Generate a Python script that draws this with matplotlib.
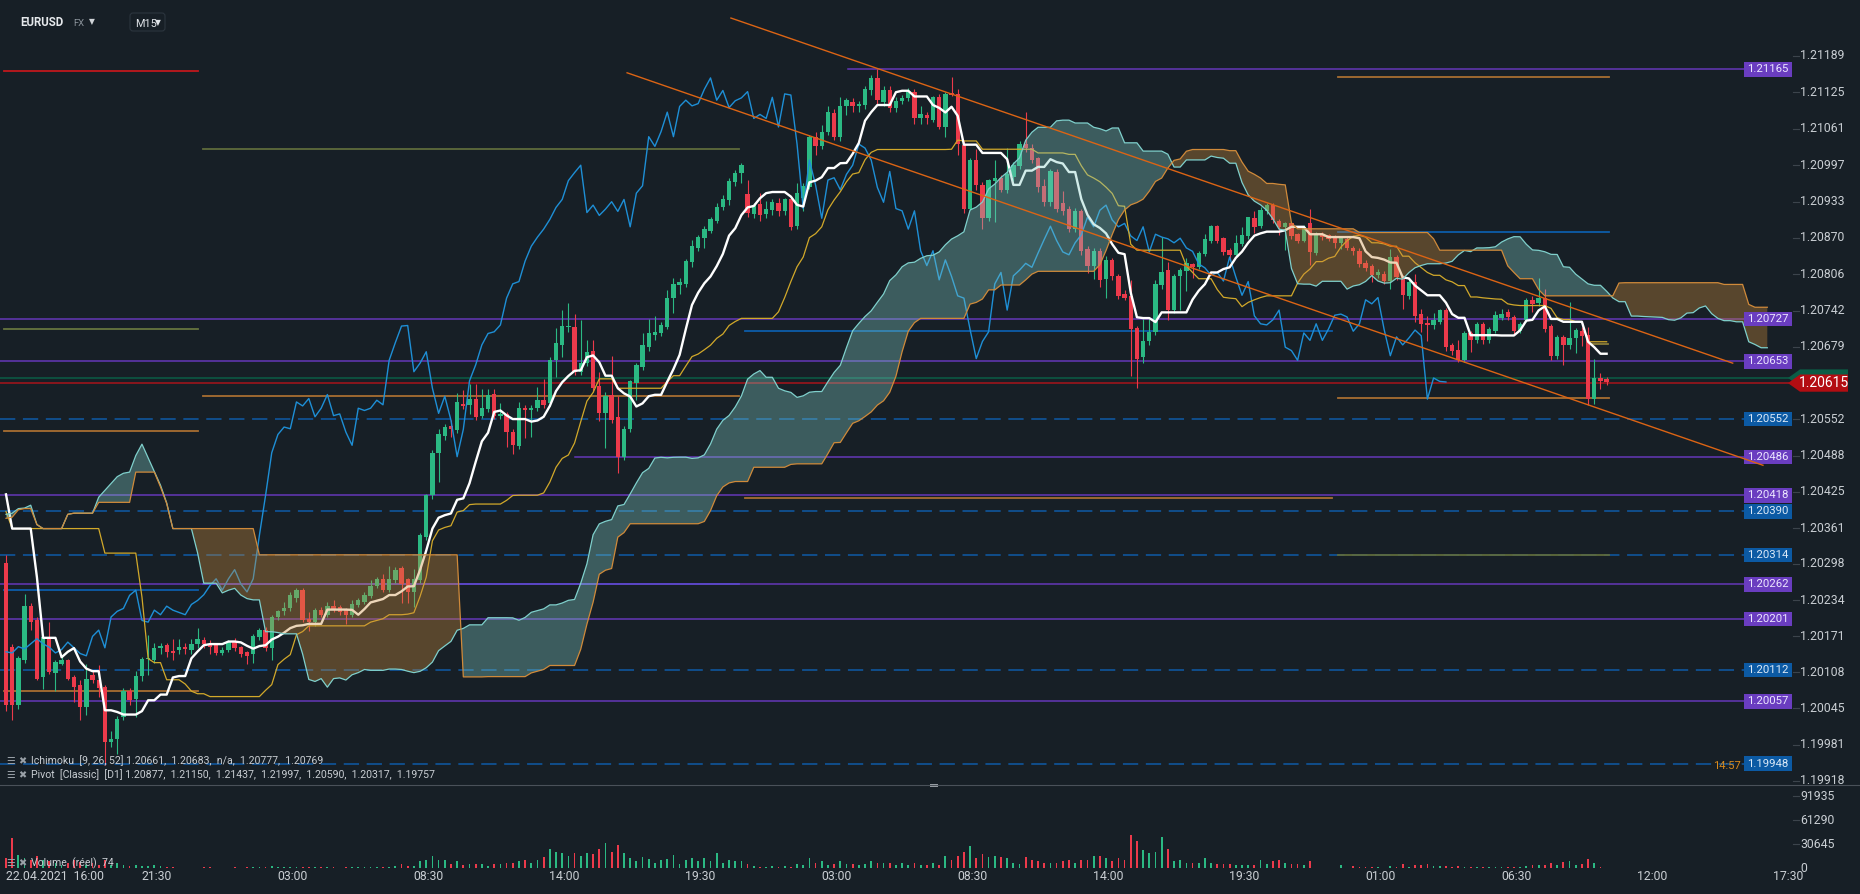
import numpy as np
import pandas as pd
import matplotlib
matplotlib.use("Agg")
import matplotlib.pyplot as plt
import matplotlib.transforms as mtransforms
from matplotlib.patches import Rectangle, Polygon, FancyBboxPatch
from matplotlib.lines import Line2D

plt.rcParams['font.family'] = ['Roboto', 'DejaVu Sans']
plt.rcParams['lines.scale_dashes'] = False

W, H = 1860, 894
BG = "#171f26"

# EURUSD M15 candles, bar 0 = first bar on screen
opens = [
    1.20300, 1.20152, 1.20050, 1.20130, 1.20225, 1.20200, 1.20099, 1.20170, 1.20106, 1.20123,
    1.20129, 1.20100, 1.20085, 1.20048, 1.20103, 1.20095, 1.20082, 1.19986, 1.19992, 1.20030,
    1.20076, 1.20062, 1.20101, 1.20132, 1.20130, 1.20151, 1.20156, 1.20145, 1.20147, 1.20153,
    1.20148, 1.20157, 1.20164, 1.20158, 1.20158, 1.20142, 1.20147, 1.20162, 1.20152, 1.20143,
    1.20141, 1.20170, 1.20182, 1.20151, 1.20205, 1.20215, 1.20220, 1.20238, 1.20252, 1.20202,
    1.20196, 1.20217, 1.20209, 1.20224, 1.20222, 1.20217, 1.20209, 1.20226, 1.20232, 1.20242,
    1.20260, 1.20272, 1.20252, 1.20269, 1.20291, 1.20271, 1.20249, 1.20269, 1.20345, 1.20418,
    1.20493, 1.20522, 1.20540, 1.20532, 1.20579, 1.20576, 1.20588, 1.20557, 1.20570, 1.20596,
    1.20557, 1.20561, 1.20530, 1.20505, 1.20571, 1.20567, 1.20571, 1.20585, 1.20581, 1.20655,
    1.20682, 1.20713, 1.20714, 1.20635, 1.20650, 1.20672, 1.20610, 1.20562, 1.20594, 1.20556,
    1.20486, 1.20534, 1.20616, 1.20643, 1.20678, 1.20700, 1.20703, 1.20714, 1.20764, 1.20787,
    1.20789, 1.20828, 1.20852, 1.20869, 1.20882, 1.20900, 1.20923, 1.20936, 1.20968, 1.20983,
    1.20947, 1.20912, 1.20929, 1.20912, 1.20918, 1.20931, 1.20916, 1.20937, 1.20891, 1.20940,
    1.20959, 1.21047, 1.21030, 1.21056, 1.21088, 1.21047, 1.21100, 1.21108, 1.21101, 1.21103,
    1.21128, 1.21149, 1.21108, 1.21129, 1.21098, 1.21110, 1.21114, 1.21126, 1.21079, 1.21085,
    1.21076, 1.21117, 1.21064, 1.21123, 1.21121, 1.21033, 1.20921, 1.21006, 1.20963, 1.20904,
    1.20969, 1.20975, 1.20953, 1.20977, 1.20995, 1.21034, 1.21028, 1.21009, 1.20960, 1.20932,
    1.20985, 1.20930, 1.20920, 1.20885, 1.20917, 1.20850, 1.20821, 1.20847, 1.20797, 1.20831,
    1.20802, 1.20772, 1.20767, 1.20711, 1.20661, 1.20688, 1.20705, 1.20787, 1.20813, 1.20743,
    1.20803, 1.20811, 1.20824, 1.20819, 1.20842, 1.20865, 1.20890, 1.20869, 1.20848, 1.20840,
    1.20859, 1.20873, 1.20904, 1.20891, 1.20916, 1.20927, 1.20900, 1.20889, 1.20895, 1.20876,
    1.20865, 1.20895, 1.20843, 1.20876, 1.20874, 1.20872, 1.20860, 1.20868, 1.20852, 1.20847,
    1.20826, 1.20820, 1.20805, 1.20807, 1.20794, 1.20836, 1.20801, 1.20768, 1.20793, 1.20736,
    1.20721, 1.20717, 1.20723, 1.20743, 1.20682, 1.20673, 1.20655, 1.20703, 1.20690, 1.20719,
    1.20690, 1.20707, 1.20730, 1.20739, 1.20731, 1.20706, 1.20726, 1.20760, 1.20756, 1.20765,
    1.20715, 1.20663, 1.20696, 1.20682, 1.20694, 1.20706, 1.20700, 1.20587, 1.20624, 1.20622,
]
highs = [
    1.20313, 1.20158, 1.20136, 1.20245, 1.20230, 1.20205, 1.20172, 1.20196, 1.20130, 1.20138,
    1.20132, 1.20103, 1.20094, 1.20123, 1.20112, 1.20121, 1.20085, 1.20005, 1.20032, 1.20080,
    1.20080, 1.20111, 1.20135, 1.20173, 1.20160, 1.20160, 1.20160, 1.20167, 1.20167, 1.20160,
    1.20167, 1.20186, 1.20170, 1.20165, 1.20160, 1.20152, 1.20165, 1.20168, 1.20155, 1.20146,
    1.20176, 1.20185, 1.20188, 1.20208, 1.20218, 1.20232, 1.20248, 1.20256, 1.20255, 1.20214,
    1.20220, 1.20222, 1.20231, 1.20234, 1.20226, 1.20220, 1.20234, 1.20238, 1.20248, 1.20269,
    1.20275, 1.20281, 1.20295, 1.20293, 1.20295, 1.20274, 1.20289, 1.20352, 1.20420, 1.20497,
    1.20535, 1.20544, 1.20550, 1.20598, 1.20603, 1.20614, 1.20614, 1.20605, 1.20605, 1.20605,
    1.20580, 1.20565, 1.20534, 1.20582, 1.20576, 1.20576, 1.20609, 1.20622, 1.20660, 1.20712,
    1.20743, 1.20755, 1.20737, 1.20726, 1.20690, 1.20691, 1.20635, 1.20599, 1.20663, 1.20592,
    1.20540, 1.20620, 1.20650, 1.20702, 1.20727, 1.20732, 1.20722, 1.20778, 1.20799, 1.20799,
    1.20833, 1.20866, 1.20875, 1.20890, 1.20906, 1.20930, 1.20945, 1.20975, 1.20989, 1.21000,
    1.20971, 1.20930, 1.20948, 1.20935, 1.20937, 1.20940, 1.20940, 1.20940, 1.20965, 1.20965,
    1.21050, 1.21056, 1.21068, 1.21100, 1.21095, 1.21117, 1.21115, 1.21115, 1.21110, 1.21135,
    1.21155, 1.21165, 1.21135, 1.21135, 1.21117, 1.21120, 1.21132, 1.21130, 1.21100, 1.21090,
    1.21118, 1.21122, 1.21125, 1.21152, 1.21130, 1.21040, 1.21010, 1.21026, 1.20968, 1.20973,
    1.21006, 1.20980, 1.21027, 1.21002, 1.21040, 1.21090, 1.21035, 1.21012, 1.20972, 1.20990,
    1.20990, 1.20952, 1.20925, 1.20922, 1.20920, 1.20855, 1.20851, 1.20852, 1.20838, 1.20834,
    1.20806, 1.20778, 1.20796, 1.20716, 1.20728, 1.20728, 1.20796, 1.20872, 1.20828, 1.20806,
    1.20816, 1.20834, 1.20826, 1.20846, 1.20877, 1.20892, 1.20892, 1.20872, 1.20852, 1.20875,
    1.20889, 1.20907, 1.20916, 1.20924, 1.20930, 1.20930, 1.20903, 1.20898, 1.20898, 1.20879,
    1.20893, 1.20920, 1.20880, 1.20880, 1.20877, 1.20875, 1.20873, 1.20872, 1.20856, 1.20852,
    1.20830, 1.20823, 1.20815, 1.20812, 1.20850, 1.20840, 1.20805, 1.20800, 1.20807, 1.20745,
    1.20732, 1.20738, 1.20745, 1.20746, 1.20685, 1.20690, 1.20706, 1.20706, 1.20722, 1.20722,
    1.20713, 1.20741, 1.20745, 1.20745, 1.20734, 1.20722, 1.20765, 1.20768, 1.20799, 1.20780,
    1.20718, 1.20700, 1.20700, 1.20757, 1.20712, 1.20713, 1.20713, 1.20657, 1.20632, 1.20625,
]
lows = [
    1.20040, 1.20024, 1.20043, 1.20125, 1.20183, 1.20095, 1.20078, 1.20105, 1.20076, 1.20120,
    1.20094, 1.20056, 1.20024, 1.20033, 1.20090, 1.20065, 1.19945, 1.19977, 1.19965, 1.20025,
    1.20050, 1.20030, 1.20092, 1.20103, 1.20125, 1.20140, 1.20135, 1.20129, 1.20141, 1.20140,
    1.20140, 1.20150, 1.20150, 1.20140, 1.20138, 1.20138, 1.20143, 1.20145, 1.20135, 1.20123,
    1.20125, 1.20165, 1.20145, 1.20130, 1.20200, 1.20208, 1.20215, 1.20231, 1.20196, 1.20180,
    1.20190, 1.20205, 1.20205, 1.20213, 1.20208, 1.20192, 1.20205, 1.20222, 1.20228, 1.20238,
    1.20255, 1.20248, 1.20248, 1.20265, 1.20229, 1.20229, 1.20223, 1.20265, 1.20340, 1.20412,
    1.20442, 1.20515, 1.20520, 1.20528, 1.20570, 1.20560, 1.20550, 1.20553, 1.20565, 1.20552,
    1.20552, 1.20503, 1.20490, 1.20500, 1.20518, 1.20520, 1.20566, 1.20572, 1.20575, 1.20626,
    1.20661, 1.20705, 1.20630, 1.20630, 1.20645, 1.20600, 1.20548, 1.20501, 1.20545, 1.20457,
    1.20480, 1.20530, 1.20586, 1.20638, 1.20672, 1.20690, 1.20698, 1.20710, 1.20738, 1.20772,
    1.20784, 1.20819, 1.20846, 1.20851, 1.20878, 1.20896, 1.20918, 1.20928, 1.20960, 1.20966,
    1.20907, 1.20905, 1.20900, 1.20905, 1.20910, 1.20908, 1.20910, 1.20884, 1.20885, 1.20917,
    1.20955, 1.21015, 1.21025, 1.21050, 1.21042, 1.21040, 1.21085, 1.21090, 1.21090, 1.21095,
    1.21120, 1.21105, 1.21100, 1.21091, 1.21090, 1.21105, 1.21110, 1.21070, 1.21070, 1.21070,
    1.21072, 1.21060, 1.21047, 1.21118, 1.21015, 1.20914, 1.20918, 1.20953, 1.20885, 1.20900,
    1.20898, 1.20950, 1.20948, 1.20970, 1.20990, 1.21020, 1.21000, 1.20950, 1.20925, 1.20925,
    1.20915, 1.20910, 1.20880, 1.20880, 1.20840, 1.20808, 1.20797, 1.20784, 1.20765, 1.20795,
    1.20762, 1.20760, 1.20627, 1.20606, 1.20651, 1.20682, 1.20700, 1.20780, 1.20726, 1.20738,
    1.20744, 1.20777, 1.20799, 1.20815, 1.20838, 1.20860, 1.20860, 1.20840, 1.20831, 1.20836,
    1.20855, 1.20868, 1.20878, 1.20887, 1.20912, 1.20895, 1.20875, 1.20848, 1.20868, 1.20860,
    1.20862, 1.20822, 1.20840, 1.20866, 1.20864, 1.20852, 1.20850, 1.20848, 1.20840, 1.20818,
    1.20812, 1.20792, 1.20800, 1.20788, 1.20780, 1.20795, 1.20745, 1.20762, 1.20722, 1.20705,
    1.20688, 1.20710, 1.20718, 1.20672, 1.20665, 1.20652, 1.20652, 1.20670, 1.20686, 1.20684,
    1.20686, 1.20703, 1.20726, 1.20726, 1.20700, 1.20702, 1.20722, 1.20740, 1.20750, 1.20704,
    1.20656, 1.20658, 1.20646, 1.20675, 1.20668, 1.20680, 1.20576, 1.20579, 1.20605, 1.20612,
]
closes = [
    1.20050, 1.20050, 1.20133, 1.20225, 1.20197, 1.20097, 1.20170, 1.20108, 1.20126, 1.20129,
    1.20097, 1.20083, 1.20048, 1.20097, 1.20094, 1.20081, 1.19986, 1.19991, 1.20027, 1.20075,
    1.20059, 1.20101, 1.20132, 1.20134, 1.20151, 1.20155, 1.20144, 1.20142, 1.20153, 1.20149,
    1.20158, 1.20167, 1.20158, 1.20152, 1.20142, 1.20148, 1.20161, 1.20151, 1.20141, 1.20137,
    1.20171, 1.20182, 1.20151, 1.20205, 1.20215, 1.20220, 1.20243, 1.20252, 1.20199, 1.20196,
    1.20217, 1.20209, 1.20224, 1.20217, 1.20213, 1.20209, 1.20227, 1.20234, 1.20244, 1.20260,
    1.20272, 1.20252, 1.20272, 1.20288, 1.20263, 1.20249, 1.20272, 1.20348, 1.20418, 1.20493,
    1.20525, 1.20538, 1.20535, 1.20582, 1.20575, 1.20588, 1.20556, 1.20571, 1.20595, 1.20558,
    1.20561, 1.20529, 1.20506, 1.20571, 1.20567, 1.20571, 1.20585, 1.20577, 1.20655, 1.20686,
    1.20715, 1.20716, 1.20635, 1.20650, 1.20670, 1.20606, 1.20562, 1.20592, 1.20550, 1.20486,
    1.20534, 1.20619, 1.20647, 1.20682, 1.20702, 1.20705, 1.20717, 1.20764, 1.20789, 1.20793,
    1.20829, 1.20855, 1.20871, 1.20885, 1.20902, 1.20923, 1.20937, 1.20970, 1.20984, 1.20997,
    1.20914, 1.20927, 1.20909, 1.20920, 1.20933, 1.20916, 1.20937, 1.20889, 1.20948, 1.20961,
    1.21047, 1.21030, 1.21056, 1.21090, 1.21047, 1.21100, 1.21111, 1.21101, 1.21105, 1.21130,
    1.21150, 1.21111, 1.21128, 1.21098, 1.21110, 1.21115, 1.21126, 1.21079, 1.21086, 1.21079,
    1.21116, 1.21064, 1.21122, 1.21120, 1.21034, 1.20921, 1.21006, 1.20962, 1.20904, 1.20971,
    1.20975, 1.20954, 1.20981, 1.20997, 1.21034, 1.21027, 1.21006, 1.20958, 1.20932, 1.20986,
    1.20921, 1.20917, 1.20885, 1.20917, 1.20847, 1.20821, 1.20847, 1.20796, 1.20831, 1.20802,
    1.20768, 1.20764, 1.20709, 1.20658, 1.20688, 1.20705, 1.20789, 1.20809, 1.20743, 1.20803,
    1.20813, 1.20825, 1.20818, 1.20843, 1.20867, 1.20890, 1.20865, 1.20845, 1.20840, 1.20861,
    1.20875, 1.20906, 1.20889, 1.20918, 1.20927, 1.20901, 1.20889, 1.20895, 1.20873, 1.20865,
    1.20889, 1.20845, 1.20876, 1.20871, 1.20868, 1.20861, 1.20869, 1.20852, 1.20846, 1.20824,
    1.20817, 1.20804, 1.20809, 1.20794, 1.20836, 1.20801, 1.20769, 1.20793, 1.20733, 1.20719,
    1.20717, 1.20726, 1.20743, 1.20678, 1.20672, 1.20655, 1.20703, 1.20690, 1.20719, 1.20690,
    1.20710, 1.20734, 1.20736, 1.20731, 1.20706, 1.20719, 1.20761, 1.20754, 1.20765, 1.20709,
    1.20663, 1.20696, 1.20682, 1.20694, 1.20708, 1.20698, 1.20587, 1.20624, 1.20618, 1.20617,
]
volumes = [
    12900, 38700, 16800, 12900, 10300, 15500, 10300, 9000, 6500, 3900,
    6500, 10300, 7700, 3900, 6500, 3900, 10300, 3900, 6500, 3900,
    2600, 3900, 2600, 2600, 3900, 2600, 1300, 1300, 0, 0,
    0, 0, 1300, 1300, 0, 0, 0, 1300, 0, 1300,
    1300, 1300, 1300, 2600, 1300, 1300, 1300, 1300, 1300, 1300,
    1300, 1300, 1300, 1300, 0, 1300, 1300, 1300, 1300, 1300,
    1300, 1300, 1300, 2600, 5200, 2600, 2600, 9000, 10300, 15500,
    10300, 10300, 5200, 9000, 3900, 5200, 5200, 5200, 2600, 5200,
    5200, 6500, 6500, 9000, 10300, 6500, 10300, 14200, 24500, 20600,
    19400, 15500, 19400, 15500, 19400, 18100, 24500, 32300, 20600, 29700,
    19400, 12900, 9000, 14200, 11600, 6500, 10300, 11600, 16800, 5200,
    10300, 12900, 9000, 12900, 9000, 19400, 6500, 10300, 9000, 9000,
    5200, 2600, 1300, 1300, 2600, 1300, 2600, 1300, 5200, 3900,
    12900, 6500, 9000, 3900, 5200, 9000, 5200, 5200, 3900, 5200,
    9000, 6500, 6500, 6500, 3900, 6500, 3900, 6500, 3900, 3900,
    6500, 3900, 15500, 10300, 15500, 20600, 28400, 12900, 18100, 14200,
    15500, 14200, 12900, 6500, 5200, 14200, 10300, 9000, 6500, 6500,
    6500, 9000, 10300, 6500, 10300, 10300, 15500, 15500, 12900, 9000,
    12900, 10300, 42600, 34800, 23200, 19400, 20600, 40000, 24500, 9000,
    10300, 6500, 6500, 6500, 12900, 6500, 5200, 5200, 5200, 3900,
    3900, 3900, 3900, 10300, 5200, 9000, 10300, 6500, 5200, 5200,
    3900, 9000, 0, 0, 0, 0, 3900, 0, 2600, 1300,
    1300, 1300, 1300, 0, 2600, 1300, 5200, 1300, 3900, 3900,
    5200, 2600, 2600, 2600, 1300, 2600, 1300, 1300, 1300, 1300,
    1300, 1300, 1300, 1300, 1300, 1300, 2600, 3900, 3900, 3900,
    6500, 3900, 7700, 9000, 3900, 5200, 11600, 6500, 1300, 74,
]

# ichimoku values for the first bars, where the history is off screen
tenkan_head = [1.20420, 1.20360, 1.20360, 1.20360, 1.20360, 1.20275]
kijun_step_start = [0, 1, 16, 22, 23, 24]
kijun_step_value = [1.20390, 1.20360, 1.20317, 1.20240, 1.20132, 1.20125]
span_a_head = [1.20385, 1.20387, 1.20395, 1.20396, 1.20401, 1.20367, 1.20360, 1.20360,
               1.20360, 1.20360, 1.20385, 1.20387, 1.20387, 1.20387, 1.20387, 1.20415,
               1.20427, 1.20439, 1.20451, 1.20457, 1.20459, 1.20488, 1.20508, 1.20484,
               1.20460, 1.20436]
span_b_step_start = [0, 1, 2, 3, 5, 6, 10, 11, 15, 21, 25, 26, 27, 41, 74]
span_b_step_value = [1.20378, 1.20380, 1.20393, 1.20395, 1.20367, 1.20360, 1.20385, 1.20387,
                     1.20406, 1.20459, 1.20433, 1.20404, 1.20360, 1.20314, 1.20100]

# horizontal levels
purple_levels = [1.21165, 1.20727, 1.20653, 1.20486, 1.20418, 1.20262, 1.20201, 1.20057]
purple_from = [136.2, -1, -1, 92, -1, -1, -1, -1]
blue_levels = [1.20552, 1.20390, 1.20314, 1.20112, 1.19948]
last_price = 1.20615
ask_price = 1.20624

pivot_segments = [
    (-0.3, 31.1, 1.21162, "#c0181d"),
    (-0.3, 31.1, 1.20710, "#66753f"),
    (-0.3, 31.1, 1.20531, "#a86e32"),
    (-0.3, 31.1, 1.20252, "#0d5ca9"),
    (-0.3, 31.1, 1.20076, "#a86e32"),
    (31.9, 118.6, 1.21025, "#5f6b3c"),
    (31.9, 118.6, 1.20593, "#a86e32"),
    (31.9, 118.6, 1.20262, "#5a48c8"),
    (119.6, 214.6, 1.20706, "#0d5ca9"),
    (119.6, 214.6, 1.20414, "#a86e32"),
    (215.5, 259.4, 1.21152, "#a86e32"),
    (215.5, 259.4, 1.20880, "#0d5ca9"),
    (215.5, 259.4, 1.20589, "#a86e32"),
    (215.5, 259.4, 1.20313, "#5f6b3c"),
    (256.3, 259.2, 1.20684, "#8a7d38"),
]
trend_lines = [
    ((117.3, 1.21255), (279.4, 1.20650)),
    ((100.5, 1.21159), (284.3, 1.20471)),
]

price_ticks = [1.21189, 1.21125, 1.21061, 1.20997, 1.20933, 1.20870, 1.20806, 1.20742,
               1.20679, 1.20552, 1.20488, 1.20425, 1.20361, 1.20298, 1.20234, 1.20171,
               1.20108, 1.20045, 1.19981, 1.19918]
vol_ticks = [91935, 61290, 30645, 0]
time_bars = [24.4, 46.4, 68.4, 90.4, 112.4, 134.4, 156.4, 178.4, 200.4, 222.4, 244.4, 266.4, 288.4]
time_labels = ["21:30", "03:00", "08:30", "14:00", "19:30", "03:00", "08:30",
               "14:00", "19:30", "01:00", "06:30", "12:00", "17:30"]

# ---- indicators
O = np.array(opens); Hi = np.array(highs); Lo = np.array(lows); C = np.array(closes)
n = len(C)
k = np.arange(n)
hs, ls = pd.Series(Hi), pd.Series(Lo)
tenkan = ((hs.rolling(9, min_periods=1).max() + ls.rolling(9, min_periods=1).min()) / 2).to_numpy()
tenkan[:len(tenkan_head)] = tenkan_head
kijun = ((hs.rolling(26, min_periods=1).max() + ls.rolling(26, min_periods=1).min()) / 2).to_numpy()
kijun_head = np.repeat(kijun_step_value, np.diff(kijun_step_start + [26]))
kijun[:26] = kijun_head
mid52 = ((hs.rolling(52, min_periods=1).max() + ls.rolling(52, min_periods=1).min()) / 2).to_numpy()
span_a = np.concatenate([span_a_head, (tenkan + kijun) / 2])
span_b_head = np.repeat(span_b_step_value, np.diff(span_b_step_start + [78]))
span_b = np.concatenate([span_b_head, mid52[52:]])
kc = np.arange(len(span_a))

# ---- figure
fig = plt.figure(figsize=(W / 100, H / 100), dpi=100, facecolor=BG)
XL = (-6 / 6.18, (1795 - 6) / 6.18)
ax = fig.add_axes([0, 1 - 785 / H, 1795 / W, 785 / H])
ax.set_xlim(*XL)
ax.set_ylim(1.199105, 1.212866)
ax.axis('off')
axv = fig.add_axes([0, 1 - 868 / H, 1795 / W, 83 / H])
axv.set_xlim(*XL)
axv.set_ylim(0, 106000)
axv.axis('off')

ident = mtransforms.IdentityTransform()
tr_py = mtransforms.blended_transform_factory(ident, ax.transData)     # x px, y price
tr_vy = mtransforms.blended_transform_factory(ident, axv.transData)
tr_kx = mtransforms.blended_transform_factory(ax.transData, ident)     # x bar, y px
x_lab = 281.2  # bar where the level labels begin

def ypix(p):
    return ax.transData.transform((0, p))[1]

# levels
for p, x0 in zip(purple_levels, purple_from):
    ax.plot([x0, x_lab], [p, p], color="#6437b8", lw=1.1, zorder=1)
for p in blue_levels:
    ax.plot([-1, x_lab], [p, p], color="#0e5aa6", lw=1.1, ls=(0, (11, 5.5)), zorder=1)
for x0, x1, p, col in pivot_segments:
    ax.plot([x0, x1], [p, p], color=col, lw=1.3, zorder=1.2)
ax.plot([-1, 289], [ask_price, ask_price], color="#0b5d46", lw=1.1, zorder=1)
ax.plot([-1, 289], [last_price, last_price], color="#a8141b", lw=1.1, zorder=1)

# candles
up = C >= O
GREEN, RED = "#2bb983", "#ec3a4b"
cols = np.where(up, GREEN, RED)
ax.vlines(k, Lo, Hi, colors=cols, lw=0.8, zorder=2)
body = np.maximum(np.abs(C - O), 0.000018)
ax.bar(k, body, bottom=np.minimum(O, C), width=0.7, color=cols, lw=0, zorder=2.1)

# ichimoku
ax.plot(k[:n - 26], C[26:], color="#1e8fd6", lw=1.0, zorder=3)
ax.plot(k, kijun, color="#d2a92a", lw=0.9, zorder=3.1)
ax.plot(k, tenkan, color="white", lw=1.7, zorder=3.2)
ax.fill_between(kc, span_a, span_b, where=span_a >= span_b, interpolate=True,
                facecolor="#80cbc4", alpha=0.36, lw=0, zorder=4)
ax.fill_between(kc, span_a, span_b, where=span_a < span_b, interpolate=True,
                facecolor="#cc8c3c", alpha=0.36, lw=0, zorder=4)
ax.plot(kc, span_a, color="#7fd0cc", lw=0.9, zorder=4.1)
ax.plot(kc, span_b, color="#d08a3a", lw=0.9, zorder=4.1)

# trend channel (over the level labels)
for (xa, pa), (xb, pb) in trend_lines:
    fig.add_artist(Line2D([xa, xb], [pa, pb], transform=ax.transData, color="#dc6414",
                          lw=1.0, zorder=1.5))

# volume
axv.bar(k, volumes, width=0.28, color=cols, lw=0)

# price axis
for p in price_ticks:
    fig.text(1800, p, "%.5f" % p, transform=tr_py, ha="left", va="center",
             fontsize=8.8, color="#c9ced3")
    fig.add_artist(Line2D([1793, 1799], [p, p], transform=tr_py, color="#3c444c", lw=0.8))

# level labels
for p in purple_levels:
    y = ypix(p)
    fig.add_artist(Rectangle((1744, y - 7.2), 48, 14.4, transform=ident,
                             facecolor="#6a3dc0", edgecolor="none", zorder=1))
    fig.text(1768, y, "%.5f" % p, transform=ident, ha="center", va="center",
             fontsize=8.2, color="#ece6ff", zorder=3)
for p in blue_levels:
    y = ypix(p)
    fig.add_artist(Rectangle((1744, y - 7.2), 48, 14.4, transform=ident,
                             facecolor="#0c5aa4", edgecolor="none", zorder=1))
    fig.text(1768, y, "%.5f" % p, transform=ident, ha="center", va="center",
             fontsize=8.2, color="#dbe9f7", zorder=3)

# countdown text just left of the lowest label
fig.text(1741, H - 766, "14:57", transform=ident, ha="right", va="center",
         fontsize=8, color="#d98a1c", zorder=0.5)

# current price tags
for p, col in [(ask_price, "#0b5d46"), (last_price, "#b30d12")]:
    y = ypix(p)
    fig.add_artist(Polygon([(1788, y), (1800, y + 8.6), (1848, y + 8.6), (1848, y - 8.6),
                            (1800, y - 8.6)], closed=True, transform=ident,
                           facecolor=col, edgecolor="none", zorder=1))
fig.text(1824, ypix(last_price), "%.5f" % last_price, transform=ident, ha="center",
         va="center", fontsize=10, color="white", zorder=3)

# volume axis
for v in vol_ticks:
    fig.text(1800, v, str(v), transform=tr_vy, ha="left", va="center",
             fontsize=8.8, color="#c9ced3")
    if v > 0:
        fig.add_artist(Line2D([1793, 1799], [v, v], transform=tr_vy, color="#3c444c", lw=0.8))

# time axis
fig.text(6, H - 877, "22.04.2021  16:00", transform=ident, ha="left", va="center",
         fontsize=8.8, color="#c9ced3")
for xb, lab in zip(time_bars, time_labels):
    fig.text(xb, H - 877, lab, transform=tr_kx, ha="center", va="center",
             fontsize=8.8, color="#c9ced3")

# pane separator
fig.add_artist(Line2D([0, W], [H - 785, H - 785], transform=ident, color="#4a5159", lw=0.8))
fig.add_artist(Rectangle((930, H - 786.5), 8, 2.5, transform=ident, facecolor="#9aa0a6",
                         edgecolor="none"))

# legends
legend_rows = [
    (761, "Ichimoku  [9, 26, 52] 1.20661,  1.20683,  n/a,  1.20777,  1.20769"),
    (775, "Pivot  [Classic]  [D1] 1.20877,  1.21150,  1.21437,  1.21997,  1.20590,  1.20317,  1.19757"),
    (863, "Volume  (réel)  74"),
]
for y, txt in legend_rows:
    fig.text(6, H - y, "\u2630", transform=ident, ha="left", va="center", fontsize=7,
             color="#9aa1a8", family=["DejaVu Sans"])
    fig.text(18, H - y, "\u2716", transform=ident, ha="left", va="center", fontsize=7,
             color="#9aa1a8", family=["DejaVu Sans"])
    fig.text(31, H - y, txt, transform=ident, ha="left", va="center", fontsize=7.6,
             color="#c8cdd2")

# header
fig.text(20, H - 23, "EURUSD", transform=ident, ha="left", va="center", fontsize=8.3,
         fontweight="bold", color="#e6e9ec")
fig.text(73, H - 23, "FX", transform=ident, ha="left", va="center", fontsize=6.8,
         color="#8c949c")
fig.text(89, H - 22, "\u25bc", transform=ident, ha="left", va="center", fontsize=5.5,
         color="#d0d4d8", family=["DejaVu Sans"])
fig.add_artist(FancyBboxPatch((130, H - 31), 35, 18, boxstyle="round,pad=0,rounding_size=3",
                              transform=ident, facecolor="none", edgecolor="#2c353e", lw=0.8))
fig.text(135, H - 24, "M15", transform=ident, ha="left", va="center", fontsize=7.8,
         color="#dfe3e7")
fig.text(155, H - 23, "\u25bc", transform=ident, ha="left", va="center", fontsize=5.5,
         color="#dfe3e7", family=["DejaVu Sans"])

fig.savefig("out.png", dpi=100, facecolor=BG)
